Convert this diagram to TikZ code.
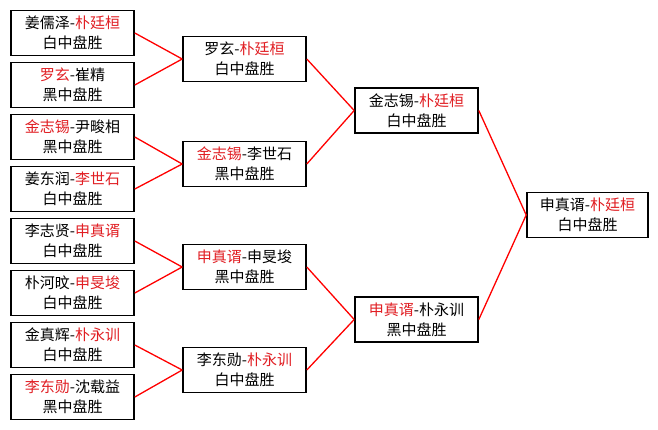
\documentclass[tikz,border=0pt]{standalone}
\usepackage{fontspec}
\setmainfont{Noto Sans CJK SC}
\usepackage{tikz}
\usetikzlibrary{positioning}

\definecolor{winred}{RGB}{225,30,35}
\newcommand{\wn}[1]{\textcolor{winred}{#1}}

\tikzset{
  game/.style={rectangle,draw,line width=1.6pt,fill=white,align=center,
    minimum width=123pt,minimum height=45pt,inner sep=0pt,
    font=\fontsize{15}{20}\selectfont},
  bracket/.style={draw=red,line width=1.3pt}
}

\begin{document}
\begin{tikzpicture}[x=1pt,y=-1pt]
            \useasboundingbox (0,0) rectangle (658,429);

            % first round
            \node [game] (a1) at (72.5,33) {姜儒泽-\wn{朴廷桓}\\白中盘胜};
            \node [game] (a2) at (72.5,85) {\wn{罗玄}-崔精\\黑中盘胜};
            \node [game] (a3) at (72.5,137) {\wn{金志锡}-尹畯相\\黑中盘胜};
            \node [game] (a4) at (72.5,189) {姜东润-\wn{李世石}\\白中盘胜};
            \node [game] (a5) at (72.5,241) {李志贤-\wn{申真谞}\\白中盘胜};
            \node [game] (a6) at (72.5,293) {朴河旼-\wn{申旻埈}\\白中盘胜};
            \node [game] (a7) at (72.5,345) {金真辉-\wn{朴永训}\\白中盘胜};
            \node [game] (a8) at (72.5,397) {\wn{李东勋}-沈载益\\黑中盘胜};

            % quarter final
            \node [game] (b1) at (244.5,59) {罗玄-\wn{朴廷桓}\\白中盘胜};
            \node [game] (b2) at (244.5,164) {\wn{金志锡}-李世石\\黑中盘胜};
            \node [game] (b3) at (244.5,267) {\wn{申真谞}-申旻埈\\黑中盘胜};
            \node [game] (b4) at (244.5,370) {李东勋-\wn{朴永训}\\白中盘胜};

            % semi final
            \node [game] (c1) at (416.5,110.5) {金志锡-\wn{朴廷桓}\\白中盘胜};
            \node [game] (c2) at (416.5,319.5) {\wn{申真谞}-朴永训\\黑中盘胜};

            % final
            \node [game,minimum width=121pt] (final) at (587.5,215) {申真谞-\wn{朴廷桓}\\白中盘胜};

            \path[bracket]
            (a1.east) edge (b1.west)
            (a2.east) edge (b1.west)
            (a3.east) edge (b2.west)
            (a4.east) edge (b2.west)
            (a5.east) edge (b3.west)
            (a6.east) edge (b3.west)
            (a7.east) edge (b4.west)
            (a8.east) edge (b4.west)
            (b1.east) edge (c1.west)
            (b2.east) edge (c1.west)
            (b3.east) edge (c2.west)
            (b4.east) edge (c2.west)
            (c1.east) edge (final.west)
            (c2.east) edge (final.west)
            ;

        \end{tikzpicture}
\end{document}
